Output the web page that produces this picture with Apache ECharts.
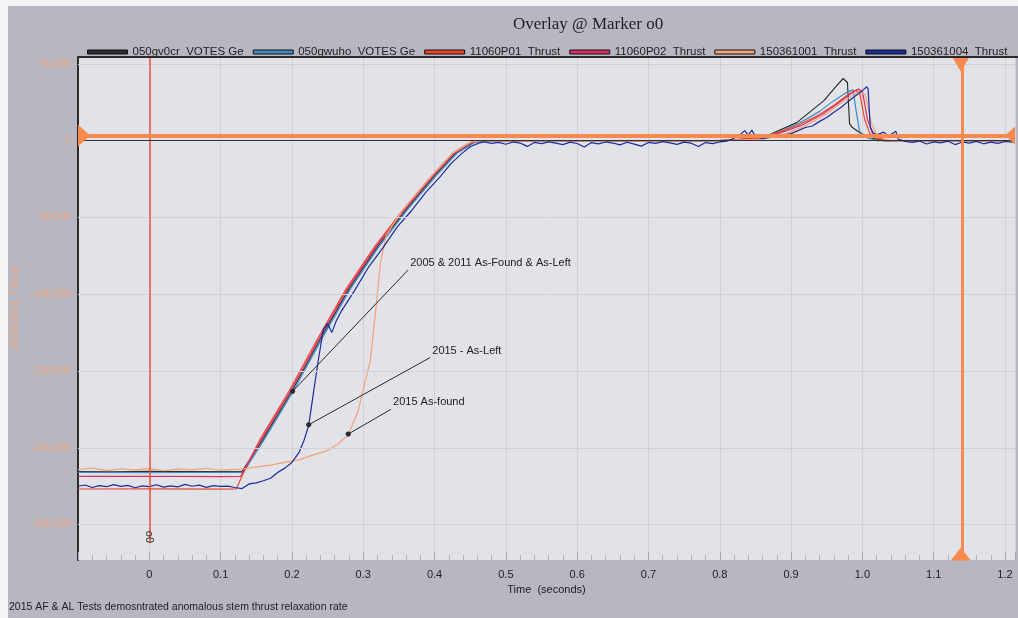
<!DOCTYPE html>
<html>
<head>
<meta charset="utf-8">
<script src="https://cdn.jsdelivr.net/npm/echarts@6/dist/echarts.min.js"></script>
<style>
  html, body { margin: 0; padding: 0; background: #f4f4f6; }
  #chart { width: 1018px; height: 618px; }
</style>
</head>
<body>
<div id="chart"></div>
<script>
// tick labels
const yTicks = [50000, 0, -50000, -100000, -150000, -200000, -250000]

// 050gv0cr VOTES Ge
const tBlack = [-0.1, -0.05, 0, 0.05, 0.1, 0.13, 0.16, 0.2, 0.24, 0.28, 0.32, 0.36, 0.4, 0.43, 0.455, 0.47, 0.6, 0.8, 0.84, 0.87, 0.908, 0.946, 0.964, 0.973, 0.979, 0.982, 0.986, 0.996, 1.01, 1.03, 1.214]
const vBlack = [-215400, -215600, -215300, -215500, -215400, -215500, -194000, -163000, -129000, -96500, -69000, -45000, -23000, -8000, -1000, 0, 0, 0, 1000, 4000, 11700, 26000, 35800, 40400, 37800, 11000, 8500, 5200, 2000, 0, 0]

// 050gwuho VOTES Ge
const tBlue = [-0.1, 0, 0.1, 0.132, 0.162, 0.202, 0.242, 0.282, 0.322, 0.362, 0.402, 0.432, 0.457, 0.472, 0.8, 0.85, 0.88, 0.91, 0.94, 0.96, 0.978, 0.987, 0.991, 0.996, 1.005, 1.02, 1.214]
const vBlue = [-216000, -216200, -215900, -216000, -194000, -163000, -129000, -96500, -69000, -45000, -23000, -8000, -1000, 0, 0, 1500, 5000, 11000, 19000, 26000, 31500, 33000, 20000, 6000, 2000, 0, 0]

// 11060P01 Thrust
const tRed = [-0.1, 0, 0.1, 0.122, 0.138, 0.156, 0.196, 0.236, 0.276, 0.316, 0.356, 0.396, 0.426, 0.451, 0.466, 0.8, 0.85, 0.88, 0.91, 0.94, 0.96, 0.98, 0.99, 0.996, 1.003, 1.01, 1.02, 1.03, 1.214]
const vRed = [-226800, -226700, -226900, -226800, -210000, -194000, -163000, -129000, -96500, -69000, -45000, -23000, -8000, -1000, 0, 0, 1500, 5000, 10000, 17000, 23000, 30000, 32500, 31500, 14000, 5000, 1500, 0, 0]

// 11060P02 Thrust
const tPink = [-0.1, 0, 0.1, 0.128, 0.158, 0.198, 0.238, 0.278, 0.318, 0.358, 0.398, 0.428, 0.453, 0.468, 0.8, 0.855, 0.885, 0.915, 0.945, 0.965, 0.985, 0.994, 1.0, 1.007, 1.014, 1.024, 1.035, 1.214]
const vPink = [-218600, -218500, -218700, -218600, -194000, -163000, -129000, -96500, -69000, -45000, -23000, -8000, -1000, 0, 0, 1500, 5000, 10000, 17500, 24000, 31000, 33500, 32000, 14000, 5000, 1500, 0, 0]

// 150361001 Thrust (2015 As-found)
const tSalmon = [-0.1, -0.08, -0.06, -0.04, -0.02, 0, 0.02, 0.04, 0.06, 0.08, 0.1, 0.12, 0.13, 0.15, 0.17, 0.19, 0.21, 0.23, 0.25, 0.265, 0.279, 0.293, 0.303, 0.31, 0.317, 0.324, 0.332, 0.342, 0.356, 0.396, 0.426, 0.451, 0.466, 0.8, 0.86, 0.89, 0.92, 0.95, 0.97, 0.99, 0.997, 1.004, 1.012, 1.02, 1.03, 1.04, 1.214]
const vSalmon = [-214100, -213200, -214800, -213600, -214400, -213400, -214900, -213700, -214300, -213300, -214600, -214000, -213800, -212400, -211200, -209400, -207800, -204600, -201800, -197300, -191400, -175800, -156200, -143200, -112600, -80000, -62000, -54500, -45000, -23000, -8000, -1000, 0, 0, 1000, 4000, 9500, 17500, 24500, 30500, 32000, 30000, 12000, 4000, 1000, 0, 0]

// 150361004 Thrust (2015 As-Left)
const tNavy = [-0.1, -0.09, -0.08, -0.07, -0.06, -0.05, -0.04, -0.03, -0.02, -0.01, 0, 0.01, 0.02, 0.03, 0.04, 0.05, 0.06, 0.07, 0.08, 0.09, 0.1, 0.11, 0.12,
  0.13, 0.14, 0.15, 0.16, 0.17, 0.18, 0.19, 0.2, 0.21, 0.217, 0.2235, 0.23, 0.237, 0.244, 0.25, 0.256, 0.262,
  0.27, 0.288, 0.308, 0.328, 0.348, 0.368, 0.388, 0.408, 0.423, 0.438, 0.45, 0.463,
  0.47, 0.48, 0.49, 0.5, 0.51, 0.52, 0.53, 0.54, 0.55, 0.56, 0.57, 0.58, 0.59, 0.6, 0.61, 0.62, 0.63, 0.64, 0.65, 0.66, 0.67, 0.68, 0.69, 0.7, 0.71, 0.72, 0.73, 0.74, 0.75, 0.76, 0.77, 0.78, 0.79, 0.8, 0.81, 0.82,
  0.83, 0.835, 0.84, 0.845, 0.85, 0.86, 0.87, 0.88, 0.89, 0.9, 0.91, 0.92, 0.93, 0.94, 0.95, 0.96, 0.97, 0.98, 0.99, 1.0, 1.006, 1.008, 1.011, 1.015, 1.02, 1.03, 1.035, 1.04, 1.047, 1.05, 1.06,
  1.07, 1.08, 1.09, 1.1, 1.11, 1.12, 1.13, 1.14, 1.15, 1.16, 1.17, 1.18, 1.19, 1.2, 1.214]
const vNavy = [-225000, -224200, -225800, -224600, -225300, -223900, -225100, -224400, -226000, -224800, -225200, -224000, -225600, -224700, -225400, -223800, -225000, -224300, -225700, -224600, -225100, -224900, -225800,
  -226500, -223500, -222800, -221400, -219800, -216000, -213200, -209500, -203000, -195000, -185500, -164700, -143000, -123000, -119000, -125000, -117500,
  -110500, -97500, -82000, -69500, -56000, -45500, -33500, -23500, -15000, -8500, -4000, -1500,
  -800, -1800, -1200, -2400, -900, -1600, -3800, -1200, -2000, -800, -1700, -2600, -1000, -1900, -4200, -1300, -2100, -900, -1600, -2800, -1100, -2300, -3600, -1200, -1800, -700, -1500, -2500, -1000, -1700, -3900, -1300, -2000, -900, -400, 1500,
  4500, 6500, 3500, 6800, 2500, 1200, 2000, 2800, 3500, 4500, 6500, 8500, 9500, 12500, 15000, 18500, 21500, 25500, 29000, 32500, 35000, 33500, 9000, 5000, 3800, 5500, 3200, 4000, 6000, 1000, -500,
  -1200, -300, -2200, -800, -1500, -400, -2600, -900, -1700, -500, -2100, -1000, -1800, -600, -1200]

// annotations: [dot time, dot value, label time, label value, text]
const notes = [
  [0.201, -163200, 0.363, -84200, '2005 & 2011 As-Found & As-Left'],
  [0.2235, -185000, 0.394, -141200, '2015 - As-Left'],
  [0.279, -191000, 0.339, -174900, '2015 As-found']
]

const names = ['050gv0cr  VOTES Ge', '050gwuho  VOTES Ge', '11060P01  Thrust', '11060P02  Thrust', '150361001  Thrust', '150361004  Thrust']
const colors = ['#2b302c', '#3b8cc4', '#f0482c', '#dc2f66', '#f6a273', '#1c2c9c']

const narrow = "'Liberation Sans Narrow', 'Liberation Sans', sans-serif"
const orange = '#f78a4c'

function pairs(t, v) {
  return t.map((x, i) => [x, v[i]])
}

const chart = echarts.init(document.getElementById('chart'))

const lineData = [
  pairs(tBlack, vBlack),
  pairs(tBlue, vBlue),
  pairs(tRed, vRed),
  pairs(tPink, vPink),
  pairs(tSalmon, vSalmon),
  pairs(tNavy, vNavy)
]

const dataSeries = lineData.map((d, i) => ({
  name: names[i],
  type: 'line',
  data: d,
  showSymbol: false,
  symbol: 'none',
  z: 3,
  lineStyle: { color: colors[i], width: 1.2 },
  itemStyle: { color: colors[i] }
}))

const option = {
  backgroundColor: '#f4f4f6',
  animation: false,
  graphic: [
    { type: 'rect', z: -10, shape: { x: 8, y: 6, width: 1010, height: 612 }, style: { fill: '#b7b7c2' } },
    { type: 'line', z: 10, shape: { x1: 78, y1: 57, x2: 1018, y2: 57 }, style: { stroke: '#2a2a2a', lineWidth: 2 } },
    { type: 'text', left: 9, top: 602, style: { text: '2015 AF & AL Tests demosntrated anomalous stem thrust relaxation rate', font: '10.5px ' + narrow, fill: '#222' } }
  ],
  title: {
    text: 'Overlay @ Marker o0',
    left: 508,
    top: 11,
    textStyle: { fontFamily: "'Liberation Serif', serif", fontSize: 17, fontWeight: 'normal', color: '#222' }
  },
  legend: {
    data: names,
    left: 82,
    top: 41,
    width: 940,
    itemWidth: 40,
    itemHeight: 4,
    itemGap: 9,
    icon: 'rect',
    itemStyle: { borderColor: '#111', borderWidth: 1 },
    textStyle: { fontFamily: "'Liberation Sans', sans-serif", fontSize: 11.5, color: '#222' }
  },
  grid: {
    left: 78,
    right: 0,
    top: 57,
    bottom: 58,
    show: true,
    backgroundColor: '#e2e2e9',
    borderWidth: 0
  },
  xAxis: {
    type: 'value',
    min: -0.1,
    max: 1.214,
    interval: 0.1,
    name: 'Time  (seconds)',
    nameLocation: 'middle',
    nameGap: 22,
    nameTextStyle: { fontFamily: narrow, fontSize: 11, color: '#222' },
    axisLine: { show: false, onZero: false },
    axisTick: { show: true, inside: true, length: 8, lineStyle: { color: '#a9a9b6' } },
    minorTick: { show: true, splitNumber: 5, length: 5, lineStyle: { color: '#b3b3bf' } },
    splitLine: { show: true, lineStyle: { color: '#d0d0da' } },
    axisLabel: {
      margin: 9,
      fontFamily: narrow,
      fontSize: 11,
      color: '#222',
      formatter: v => (v < -0.05 || v > 1.205) ? '' : (Math.abs(v) < 1e-9 ? '0' : v.toFixed(1))
    }
  },
  yAxis: {
    type: 'value',
    min: -273000,
    max: 54400,
    name: '150361001  Thrust',
    nameLocation: 'middle',
    nameGap: 55,
    nameTextStyle: { fontFamily: narrow, fontSize: 10, color: '#f3a883' },
    axisLine: { show: true, onZero: false, lineStyle: { color: '#2a2a2a', width: 2 } },
    axisTick: { show: false },
    splitLine: { show: false },
    axisLabel: {
      customValues: yTicks,
      margin: 7,
      fontFamily: narrow,
      fontSize: 10,
      color: '#f3a883',
      formatter: v => v.toLocaleString('en-US')
    }
  },
  series: [
    {
      name: 'gridlines',
      type: 'line',
      data: [],
      z: 1,
      silent: true,
      markLine: {
        silent: true,
        symbol: 'none',
        label: { show: false },
        lineStyle: { color: '#d0d0da', width: 1, type: 'solid' },
        data: yTicks.map(v => ({ yAxis: v }))
      }
    },
    ...dataSeries,
    {
      name: 'marker0',
      type: 'line',
      data: [],
      z: 5,
      silent: true,
      color: '#ef5238',
      markLine: {
        silent: true,
        symbol: 'none',
        label: { show: false },
        lineStyle: { color: '#ef5238', width: 1.5, type: 'solid', opacity: 1 },
        data: [[
          { coord: [0, 54400], lineStyle: { color: '#ef5238' } },
          { coord: [0, -262000] }
        ]]
      }
    },
    {
      name: 'markers',
      type: 'line',
      data: [],
      z: 6,
      clip: false,
      silent: true,
      markLine: {
        silent: true,
        symbol: 'none',
        label: { show: false },
        data: [
          { yAxis: 0, lineStyle: { color: '#303030', width: 1, type: 'solid' } },
          { yAxis: 3300, lineStyle: { color: orange, width: 4, type: 'solid' } },
          { xAxis: 1.138, lineStyle: { color: orange, width: 3, type: 'solid' } }
        ]
      },
      markPoint: {
        silent: true,
        data: [
          { coord: [-0.1, 3300], symbol: 'triangle', symbolSize: [22, 12], symbolRotate: -90, symbolOffset: [6, 0], itemStyle: { color: orange } },
          { coord: [1.214, 3300], symbol: 'triangle', symbolSize: [18, 10], symbolRotate: 90, symbolOffset: [-5, 0], itemStyle: { color: orange } },
          { coord: [1.138, 54400], symbol: 'triangle', symbolSize: [18, 15], symbolRotate: 180, symbolOffset: [0, 7], itemStyle: { color: orange } },
          { coord: [1.138, -273000], symbol: 'triangle', symbolSize: [20, 13], symbolOffset: [0, -6], itemStyle: { color: orange } },
          { coord: [0, -258000], symbol: 'circle', symbolSize: 0, label: { show: true, position: 'inside', formatter: 'o0', rotate: -90, fontFamily: narrow, fontSize: 11, color: '#333' } }
        ]
      }
    },
    {
      name: 'notes',
      type: 'line',
      data: [],
      z: 7,
      silent: true,
      markLine: {
        silent: true,
        symbol: ['circle', 'none'],
        symbolSize: 5,
        label: { show: false },
        lineStyle: { color: '#2a2a2a', width: 1, type: 'solid' },
        itemStyle: { color: '#111' },
        data: notes.map(n => [{ coord: [n[0], n[1]] }, { coord: [n[2], n[3]] }])
      },
      markPoint: {
        silent: true,
        symbol: 'circle',
        symbolSize: 0,
        data: notes.map(n => ({
          coord: [n[2], n[3]],
          label: {
            show: true,
            position: 'right',
            distance: 2,
            offset: [0, -7],
            formatter: n[4],
            fontFamily: narrow,
            fontSize: 11,
            color: '#222'
          }
        }))
      }
    }
  ]
}

chart.setOption(option)
</script>
</body>
</html>
